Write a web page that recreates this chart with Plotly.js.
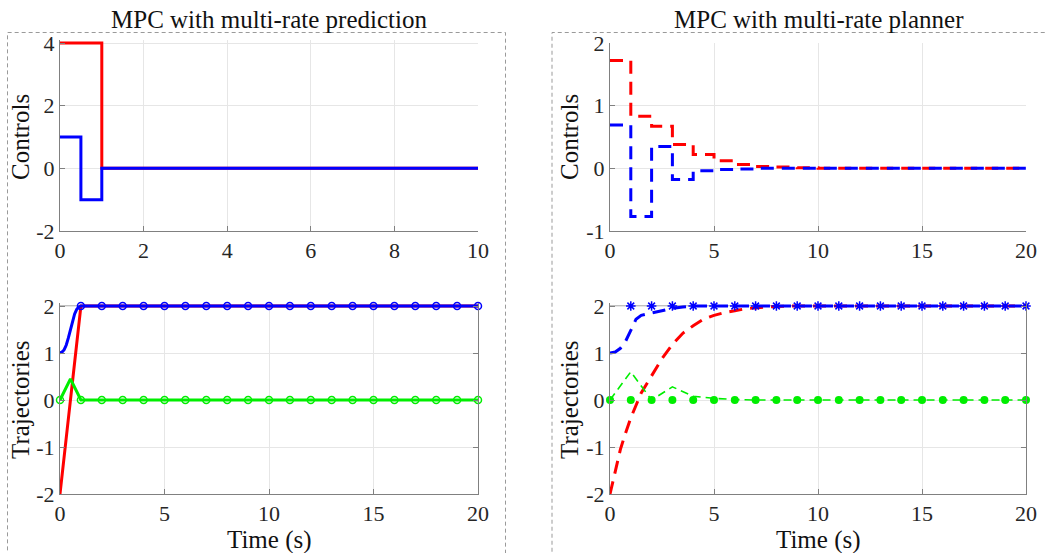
<!DOCTYPE html>
<html><head><meta charset="utf-8">
<script src="https://cdn.plot.ly/plotly-3.0.1.min.js"></script>
<style>html,body{margin:0;padding:0;background:#fff}#chart{width:1046px;height:553px}</style>
</head><body><div id="chart"></div>
<script>
// ================= DATA =================
// Left panel: MPC with multi-rate prediction
const ctrlTimeL = [0, 0.5, 1, 10];
const ctrlRedL  = [4, 4, 0, 0];
const ctrlBlueL = [1, -1, 0, 0];

const trajRedTimeL = [0, 1, 20];
const trajRedL     = [-2, 2, 2];
const trajBlueTimeL = [0, 0.1, 0.2, 0.3, 0.4, 0.5, 0.6, 0.7, 0.8, 0.9, 1, 20];
const trajBlueL     = [1, 1.02, 1.07, 1.17, 1.32, 1.5, 1.68, 1.83, 1.93, 1.98, 2, 2];
const trajGreenTimeL = [0, 0.5, 1, 20];
const trajGreenL     = [0, 0.45, 0, 0];
const sampleTimeBlueL = [1, 2, 3, 4, 5, 6, 7, 8, 9, 10, 11, 12, 13, 14, 15, 16, 17, 18, 19, 20];
const sampleBlueL     = [2, 2, 2, 2, 2, 2, 2, 2, 2, 2, 2, 2, 2, 2, 2, 2, 2, 2, 2, 2];
const sampleTimeGreenL = [0, 1, 2, 3, 4, 5, 6, 7, 8, 9, 10, 11, 12, 13, 14, 15, 16, 17, 18, 19, 20];
const sampleGreenL     = [0, 0, 0, 0, 0, 0, 0, 0, 0, 0, 0, 0, 0, 0, 0, 0, 0, 0, 0, 0, 0];

// Right panel: MPC with multi-rate planner
const ctrlTimeR = [0, 1, 2, 3, 4, 5, 6, 7, 8, 9, 10, 11, 12, 13, 14, 15, 16, 17, 18, 19, 20];
const ctrlRedR  = [1.72, 0.83, 0.67, 0.38, 0.22, 0.12, 0.06, 0.03, 0.02, 0.01, 0, 0, 0, 0, 0, 0, 0, 0, 0, 0, 0];
const ctrlBlueR = [0.69, -0.77, 0.35, -0.18, -0.04, -0.02, -0.01, 0, 0, 0, 0, 0, 0, 0, 0, 0, 0, 0, 0, 0, 0];

const trajRedTimeR = [0, 0.25, 0.5, 0.75, 1, 1.5, 2, 2.5, 3, 3.5, 4, 4.5, 5, 5.5, 6, 6.5, 7, 7.5, 8, 9, 20];
const trajRedR     = [-2, -1.5, -1.05, -0.7, -0.38, 0.15, 0.53, 0.88, 1.18, 1.42, 1.58, 1.72, 1.8, 1.86, 1.9, 1.94, 1.96, 1.98, 1.99, 2, 2];
const trajBlueTimeR = [0, 0.25, 0.5, 0.75, 1, 1.25, 1.5, 2, 2.5, 3, 3.5, 4, 20];
const trajBlueR     = [1, 1.02, 1.1, 1.25, 1.48, 1.72, 1.8, 1.85, 1.9, 1.95, 1.98, 2, 2];
const trajGreenTimeR = [0, 1, 2, 3, 4, 5, 6, 7, 20];
const trajGreenR     = [0, 0.6, 0, 0.28, 0.08, 0.035, 0.01, 0, 0];
const refTimeBlueR = [1, 2, 3, 4, 5, 6, 7, 8, 9, 10, 11, 12, 13, 14, 15, 16, 17, 18, 19, 20];
const refBlueR     = [2, 2, 2, 2, 2, 2, 2, 2, 2, 2, 2, 2, 2, 2, 2, 2, 2, 2, 2, 2];
const refTimeGreenR = [0, 1, 2, 3, 4, 5, 6, 7, 8, 9, 10, 11, 12, 13, 14, 15, 16, 17, 18, 19, 20];
const refGreenR     = [0, 0, 0, 0, 0, 0, 0, 0, 0, 0, 0, 0, 0, 0, 0, 0, 0, 0, 0, 0, 0];

const panelTitles = ['MPC with multi-rate prediction', 'MPC with multi-rate planner'];
const yLabels = ['Controls', 'Trajectories'];
const xLabel = 'Time (s)';
const ticksX10 = [0, 2, 4, 6, 8, 10];
const ticksX20 = [0, 5, 10, 15, 20];
const ticksCtrlL = [-2, 0, 2, 4];
const ticksCtrlR = [-1, 0, 1, 2];
const ticksTraj = [-2, -1, 0, 1, 2];

// ================= STYLE / LAYOUT =================
const RED = '#ff0000', BLUE = '#0000ff', GREEN = '#00ee00';
const SERIF = 'Liberation Serif, Times New Roman, serif';
const W = 1046, H = 553;
const fx = p => p / W;
const fy = p => 1 - p / H;

const traces = [
  // top-left
  {x: ctrlTimeL, y: ctrlRedL, xaxis: 'x', yaxis: 'y', mode: 'lines', line: {color: RED, width: 3, shape: 'hv'}},
  {x: ctrlTimeL, y: ctrlBlueL, xaxis: 'x', yaxis: 'y', mode: 'lines', line: {color: BLUE, width: 3, shape: 'hv'}},
  // top-right
  {x: ctrlTimeR, y: ctrlRedR, xaxis: 'x2', yaxis: 'y2', mode: 'lines', line: {color: RED, width: 3, shape: 'hv', dash: '13px,8px'}},
  {x: ctrlTimeR, y: ctrlBlueR, xaxis: 'x2', yaxis: 'y2', mode: 'lines', line: {color: BLUE, width: 3, shape: 'hv', dash: '13px,8px'}},
  // bottom-left
  {x: trajRedTimeL, y: trajRedL, xaxis: 'x3', yaxis: 'y3', mode: 'lines', line: {color: RED, width: 3}},
  {x: trajBlueTimeL, y: trajBlueL, xaxis: 'x3', yaxis: 'y3', mode: 'lines', line: {color: BLUE, width: 3}},
  {x: trajGreenTimeL, y: trajGreenL, xaxis: 'x3', yaxis: 'y3', mode: 'lines', line: {color: GREEN, width: 3}},
  {x: sampleTimeBlueL, y: sampleBlueL, xaxis: 'x3', yaxis: 'y3', mode: 'markers', cliponaxis: false,
   marker: {symbol: 'circle-open', size: 7, color: BLUE, line: {width: 1.5, color: BLUE}}},
  {x: sampleTimeGreenL, y: sampleGreenL, xaxis: 'x3', yaxis: 'y3', mode: 'markers', cliponaxis: false,
   marker: {symbol: 'circle-open', size: 7, color: GREEN, line: {width: 1.5, color: GREEN}}},
  // bottom-right
  {x: trajRedTimeR, y: trajRedR, xaxis: 'x4', yaxis: 'y4', mode: 'lines', line: {color: RED, width: 3, dash: '13px,8px'}},
  {x: trajBlueTimeR, y: trajBlueR, xaxis: 'x4', yaxis: 'y4', mode: 'lines', line: {color: BLUE, width: 3, dash: '13px,8px'}},
  {x: trajGreenTimeR, y: trajGreenR, xaxis: 'x4', yaxis: 'y4', mode: 'lines', line: {color: GREEN, width: 1.6, dash: '8px,5px'}},
  {x: refTimeBlueR, y: refBlueR, xaxis: 'x4', yaxis: 'y4', mode: 'markers', cliponaxis: false,
   marker: {symbol: 'asterisk-open', size: 8, color: BLUE, line: {width: 1.5, color: BLUE}}},
  {x: refTimeGreenR, y: refGreenR, xaxis: 'x4', yaxis: 'y4', mode: 'markers', cliponaxis: false,
   marker: {symbol: 'circle', size: 8, color: GREEN}}
];

const axBase = {
  showline: true, linecolor: '#808080', linewidth: 1,
  ticks: 'inside', ticklen: 5, tickcolor: '#808080', tickwidth: 1,
  showgrid: true, gridcolor: '#e6e6e6', gridwidth: 1, zeroline: false,
  tickfont: {family: SERIF, size: 22, color: '#262626'}, fixedrange: true
};
const lab = v => v.map(t => String(t));
const ax = o => Object.assign({}, axBase, o, {ticktext: lab(o.tickvals), tickmode: 'array'});

const xL = [fx(60), fx(478)], xR = [fx(610), fx(1026)];
const topPad = 3;
const TXT = {family: SERIF, size: 25, color: '#111'};
const note = (text, x, y, extra) => Object.assign({text, x: fx(x), y: fy(y), xref: 'paper', yref: 'paper',
  xanchor: 'center', yanchor: 'middle', showarrow: false, font: TXT}, extra || {});

const layout = {
  width: W, height: H, margin: {l: 0, r: 0, t: 0, b: 0},
  paper_bgcolor: '#fff', plot_bgcolor: '#fff', showlegend: false,
  font: {family: SERIF, color: '#262626'},
  xaxis:  ax({domain: xL, range: [0, 10], tickvals: ticksX10, anchor: 'y'}),
  yaxis:  ax({domain: [fy(231), fy(43 - topPad)], range: [-2, 4 + topPad * 6 / 188], tickvals: ticksCtrlL, anchor: 'x'}),
  xaxis2: ax({domain: xR, range: [0, 20], tickvals: ticksX20, anchor: 'y2'}),
  yaxis2: ax({domain: [fy(231), fy(43)], range: [-1, 2], tickvals: ticksCtrlR, anchor: 'x2'}),
  xaxis3: ax({domain: xL, range: [0, 20], tickvals: ticksX20, anchor: 'y3'}),
  yaxis3: ax({domain: [fy(494), fy(306 - topPad)], range: [-2, 2 + topPad * 4 / 188], tickvals: ticksTraj, anchor: 'x3', mirror: 'ticks'}),
  xaxis4: ax({domain: xR, range: [0, 20], tickvals: ticksX20, anchor: 'y4'}),
  yaxis4: ax({domain: [fy(494), fy(306 - topPad)], range: [-2, 2 + topPad * 4 / 188], tickvals: ticksTraj, anchor: 'x4', mirror: 'ticks'}),
  shapes: [
    {type: 'line', xref: 'x3', yref: 'y3', x0: 0, x1: 20, y0: 2, y1: 2, line: {color: '#808080', width: 1}, layer: 'below'},
    {type: 'line', xref: 'x4', yref: 'y4', x0: 0, x1: 20, y0: 2, y1: 2, line: {color: '#808080', width: 1}, layer: 'below'},
    {type: 'rect', xref: 'paper', yref: 'paper', x0: fx(7.5), x1: fx(505.5), y0: -0.05, y1: fy(32.5),
     line: {color: '#9a9a9a', width: 1, dash: '4px,3px'}},
    {type: 'rect', xref: 'paper', yref: 'paper', x0: fx(552), x1: 1.05, y0: -0.05, y1: fy(32.5),
     line: {color: '#9a9a9a', width: 1, dash: '4px,3px'}}
  ],
  annotations: [
    note(panelTitles[0], 269, 19),
    note(panelTitles[1], 818.5, 19),
    note(yLabels[0], 20, 137, {textangle: -90}),
    note(yLabels[1], 20, 400, {textangle: -90}),
    note(yLabels[0], 569, 137, {textangle: -90}),
    note(yLabels[1], 569, 400, {textangle: -90}),
    note(xLabel, 269, 540, {borderpad: 0}),
    note(xLabel, 818.5, 540, {borderpad: 0})
  ]
};

Plotly.newPlot('chart', traces, layout, {staticPlot: true, displayModeBar: false});
</script>
</body></html>
